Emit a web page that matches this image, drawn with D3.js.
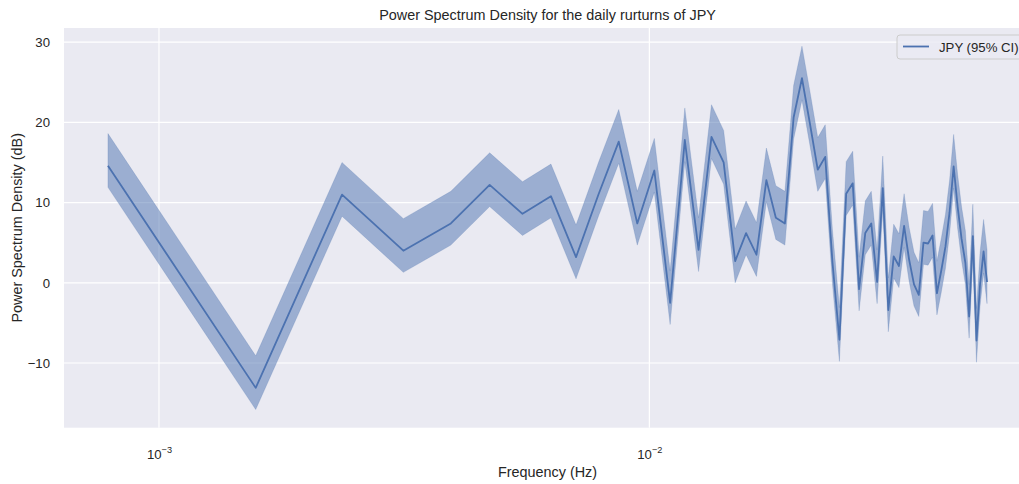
<!DOCTYPE html>
<html>
<head>
<meta charset="utf-8">
<script src="https://cdn.jsdelivr.net/npm/d3@7"></script>
<style>
  html, body { margin: 0; padding: 0; background: #ffffff; overflow: hidden; }
  svg { display: block; font-family: "Liberation Sans", Arial, sans-serif; }
</style>
</head>
<body>
<svg id="chart" width="1019" height="484"></svg>
<script>
// ---- data ----
const frequency = [0.000787,0.001575,0.002362,0.003150,0.003937,0.004724,0.005512,0.006299,0.007087,0.007874,
  0.008661,0.009449,0.010236,0.011024,0.011811,0.012598,0.013386,0.014173,0.014961,0.015748,
  0.016535,0.017323,0.018110,0.018898,0.019685,0.020472,0.021260,0.022047,0.022835,0.023622,
  0.024409,0.025197,0.025984,0.026772,0.027559,0.028346,0.029134,0.029921,0.030709,0.031496,
  0.032283,0.033071,0.033858,0.034646,0.035433,0.036220,0.037008,0.037795,0.038583,0.039370,
  0.040157,0.040945,0.041732,0.042520,0.043307,0.044094,0.044882,0.045669,0.046457,0.047244,
  0.048031,0.048819];
const psd = [14.6,-13.1,11.0,4.0,7.4,12.2,8.6,10.8,3.2,11.0,
  17.6,7.4,14.0,-2.5,17.8,4.1,18.2,15.0,2.7,6.2,
  3.5,12.8,8.1,7.4,20.6,25.5,19.8,14.1,15.7,2.6,
  -7.1,11.1,12.4,-0.8,6.2,7.4,0.1,11.8,-3.4,3.3,
  2.1,7.1,2.9,-0.2,-1.5,5.0,4.9,5.9,-1.3,1.5,
  4.5,8.8,14.5,9.5,5.5,2.5,-4.2,5.8,-7.2,-0.2,
  3.9,0.1];
const ciUpper = [18.6,-9.1,15.0,8.0,11.4,16.2,12.6,14.8,7.2,15.0,
  21.6,11.4,18.0,1.5,21.8,8.1,22.2,19.0,6.7,10.2,
  7.5,16.8,12.1,11.4,24.6,29.5,23.8,18.1,19.7,6.6,
  -3.1,15.1,16.4,3.2,10.2,11.4,4.1,15.8,0.6,7.3,
  6.1,11.1,6.9,3.8,2.5,9.0,8.9,9.9,2.7,5.5,
  8.5,12.8,18.5,13.5,9.5,6.5,-0.2,9.8,-3.2,3.8,
  7.9,4.1];
const ciLower = [11.9,-15.8,8.3,1.3,4.7,9.5,5.9,8.1,0.5,8.3,
  14.9,4.7,11.3,-5.2,15.1,1.4,15.5,12.3,0.0,3.5,
  0.8,10.1,5.4,4.7,17.9,22.8,17.1,11.4,13.0,-0.1,
  -9.8,8.4,9.7,-3.5,3.5,4.7,-2.6,9.1,-6.1,0.6,
  -0.6,4.4,0.2,-2.9,-4.2,2.3,2.2,3.2,-4.0,-1.2,
  1.8,6.1,11.8,6.8,2.8,-0.2,-6.9,3.1,-9.9,-2.9,
  1.2,-2.6];
const xTicks = [0.001, 0.01];
const xTickExp = ["\u22123", "\u22122"];
const yTicks = [-10, 0, 10, 20, 30];
const seriesLabel = "JPY (95% CI)";
const titleText = "Power Spectrum Density for the daily rurturns of JPY";
const xLabelText = "Frequency (Hz)";
const yLabelText = "Power Spectrum Density (dB)";

// ---- layout ----
const plot = { left: 64, right: 1031, top: 28, bottom: 427.7 };
const lineColor = "#4C72B0";
const textColor = "#262626";
const tickFont = "13.2px", labelFont = "14.4px";

const svg = d3.select("#chart");

// x: log scale with 5% margin in log space
const lx0 = Math.log10(d3.min(frequency)), lx1 = Math.log10(d3.max(frequency));
const padX = (lx1 - lx0) * 0.05;
const x = d3.scaleLog()
  .domain([Math.pow(10, lx0 - padX), Math.pow(10, lx1 + padX)])
  .range([plot.left, plot.right]);

const yMin = d3.min(ciLower), yMax = d3.max(ciUpper);
const padY = (yMax - yMin) * 0.05;
const y = d3.scaleLinear()
  .domain([yMin - padY, yMax + padY])
  .range([plot.bottom, plot.top]);

// background
svg.append("rect")
  .attr("x", plot.left).attr("y", plot.top)
  .attr("width", plot.right - plot.left).attr("height", plot.bottom - plot.top)
  .attr("fill", "#EAEAF2");

// grid
const grid = svg.append("g");
grid.selectAll("line.gy").data(yTicks).enter().append("line")
  .attr("x1", plot.left).attr("x2", plot.right)
  .attr("y1", d => y(d)).attr("y2", d => y(d))
  .attr("stroke", "#ffffff").attr("stroke-width", 1.2);
grid.selectAll("line.gx").data(xTicks).enter().append("line")
  .attr("y1", plot.top).attr("y2", plot.bottom)
  .attr("x1", d => x(d)).attr("x2", d => x(d))
  .attr("stroke", "#ffffff").attr("stroke-width", 1.2);

// axes via d3 axis (no tick marks, no domain)
const yAxis = d3.axisLeft(y).tickValues(yTicks).tickSize(0).tickPadding(14)
  .tickFormat(d => d < 0 ? "\u2212" + Math.abs(d) : String(d));
const gy = svg.append("g").attr("transform", `translate(${plot.left},0)`).call(yAxis);
gy.select(".domain").remove();
gy.selectAll("text").attr("font-size", tickFont).attr("fill", textColor)
  .attr("font-family", "'Liberation Sans', Arial, sans-serif");

const xAxis = d3.axisBottom(x).tickValues(xTicks).tickSize(0).tickPadding(0).tickFormat(() => "");
const gx = svg.append("g").attr("transform", `translate(0,${plot.bottom})`).call(xAxis);
gx.select(".domain").remove();
gx.selectAll(".tick").each(function(d, i) {
  const t = d3.select(this).append("text")
    .attr("y", 31).attr("text-anchor", "middle")
    .attr("fill", textColor).attr("font-size", tickFont)
    .attr("font-family", "'Liberation Sans', Arial, sans-serif");
  t.append("tspan").text("10");
  t.append("tspan").attr("dy", -6).attr("font-size", "9.2px").text(xTickExp[i]);
});

// confidence band
const clipId = "plotclip";
svg.append("clipPath").attr("id", clipId).append("rect")
  .attr("x", plot.left).attr("y", plot.top)
  .attr("width", plot.right - plot.left).attr("height", plot.bottom - plot.top);

const rows = frequency.map((f, i) => ({ f, v: psd[i], lo: ciLower[i], hi: ciUpper[i] }));
const area = d3.area().x(d => x(d.f)).y0(d => y(d.lo)).y1(d => y(d.hi));
svg.append("path").datum(rows)
  .attr("clip-path", `url(#${clipId})`)
  .attr("d", area)
  .attr("fill", lineColor).attr("fill-opacity", 0.5)
  .attr("stroke", lineColor).attr("stroke-opacity", 0.25).attr("stroke-width", 0.8);

const line = d3.line().x(d => x(d.f)).y(d => y(d.v));
svg.append("path").datum(rows)
  .attr("clip-path", `url(#${clipId})`)
  .attr("d", line)
  .attr("fill", "none").attr("stroke", lineColor).attr("stroke-width", 1.8)
  .attr("stroke-linejoin", "round");

// title & labels
svg.append("text").attr("x", (plot.left + plot.right) / 2).attr("y", 20)
  .attr("text-anchor", "middle").attr("font-size", labelFont).attr("fill", textColor)
  .text(titleText);
svg.append("text").attr("x", (plot.left + plot.right) / 2).attr("y", 477)
  .attr("text-anchor", "middle").attr("font-size", labelFont).attr("fill", textColor)
  .text(xLabelText);
svg.append("text")
  .attr("transform", `translate(22,${(plot.top + plot.bottom) / 2}) rotate(-90)`)
  .attr("text-anchor", "middle").attr("font-size", labelFont).attr("fill", textColor)
  .text(yLabelText);

// legend (upper right, partly cropped like the reference)
const lg = svg.append("g").attr("transform", "translate(897,35)");
lg.append("rect").attr("x", 0).attr("y", 0).attr("width", 127).attr("height", 24)
  .attr("rx", 3).attr("fill", "#EAEAF2").attr("fill-opacity", 0.8)
  .attr("stroke", "#cccccc").attr("stroke-width", 1);
lg.append("line").attr("x1", 6).attr("x2", 32).attr("y1", 11.5).attr("y2", 11.5)
  .attr("stroke", lineColor).attr("stroke-width", 1.8);
lg.append("text").attr("x", 42).attr("y", 16.5)
  .attr("font-size", tickFont).attr("fill", textColor).text(seriesLabel);
</script>
</body>
</html>
